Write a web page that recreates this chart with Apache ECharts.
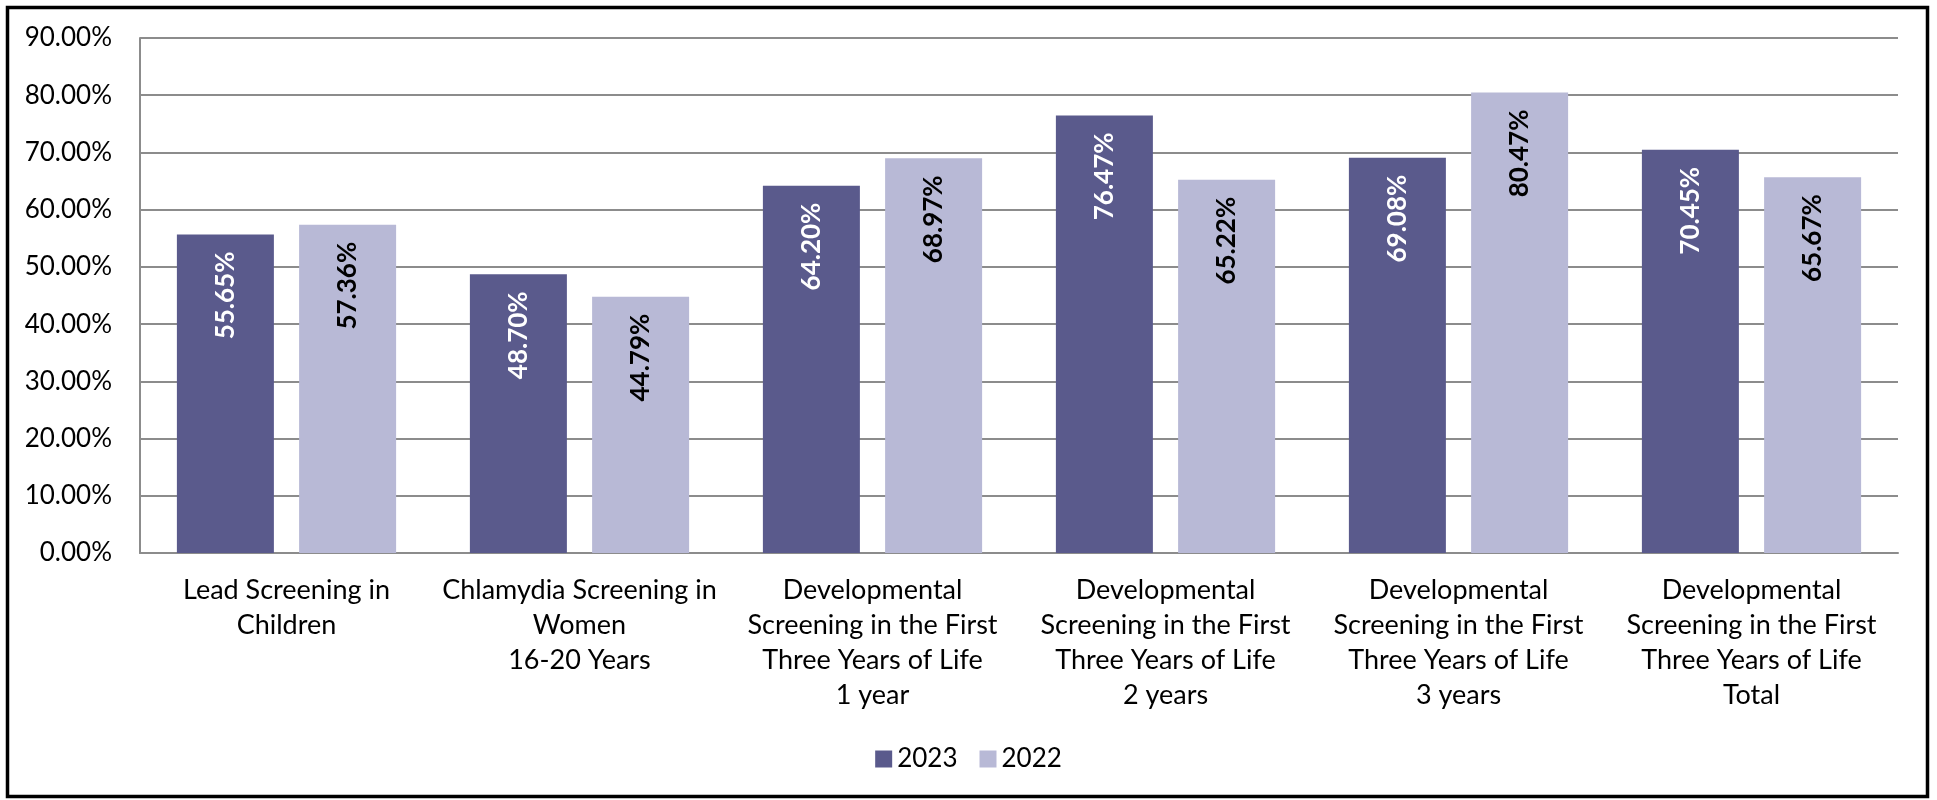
<!DOCTYPE html>
<html>
<head>
<meta charset="utf-8">
<script src="https://cdn.jsdelivr.net/npm/echarts@6/dist/echarts.min.js"></script>
<style>
  html, body { margin: 0; padding: 0; background: #fff; }
  #chart { width: 1937px; height: 800px; }
</style>
</head>
<body>
<div id="chart"></div>
<script>
// categories and values (percent)
const categories = [
  'Lead Screening in\nChildren',
  'Chlamydia Screening in\nWomen\n16-20 Years',
  'Developmental\nScreening in the First\nThree Years of Life\n1 year',
  'Developmental\nScreening in the First\nThree Years of Life\n2 years',
  'Developmental\nScreening in the First\nThree Years of Life\n3 years',
  'Developmental\nScreening in the First\nThree Years of Life\nTotal'
]
const values2023 = [55.65, 48.70, 64.20, 76.47, 69.08, 70.45]
const values2022 = [57.36, 44.79, 68.97, 65.22, 80.47, 65.67]

const font = 'Lato'
const pct = v => v.toFixed(2) + '%'

const myChart = echarts.init(document.getElementById('chart'))
const option = {
  animation: false,
  textStyle: { fontFamily: font },
  graphic: [{
    type: 'rect',
    shape: { x: 7.5, y: 7.5, width: 1920, height: 789 },
    style: { fill: 'none', stroke: '#000', lineWidth: 3.5 },
    silent: true
  }],
  grid: { left: 140, right: 39, top: 38, bottom: 247 },
  legend: {
    bottom: 23,
    left: 'center',
    itemWidth: 17,
    itemHeight: 17,
    itemGap: 22,
    icon: 'rect',
    textStyle: { fontSize: 26, color: '#000', fontFamily: font },
    data: ['2023', '2022']
  },
  xAxis: {
    type: 'category',
    data: categories,
    axisLine: { lineStyle: { color: '#8c8c8c', width: 2 } },
    axisTick: { show: false },
    axisLabel: {
      color: '#000',
      fontSize: 27,
      fontFamily: font,
      lineHeight: 35,
      margin: 20,
      interval: 0
    }
  },
  yAxis: {
    type: 'value',
    min: 0,
    max: 90,
    interval: 10,
    axisLine: { show: true, lineStyle: { color: '#8c8c8c', width: 2 } },
    axisTick: { show: false },
    splitLine: { lineStyle: { color: '#8c8c8c', width: 2 } },
    axisLabel: {
      color: '#000',
      fontSize: 26,
      fontFamily: font,
      margin: 28,
      formatter: pct
    }
  },
  series: [
    {
      name: '2023',
      type: 'bar',
      data: values2023,
      barWidth: 97,
      barGap: '26%',
      itemStyle: { color: '#5a5a8c' },
      label: {
        show: true,
        position: 'insideTop',
        rotate: 90,
        align: 'right',
        verticalAlign: 'middle',
        distance: 17,
        color: '#fff',
        fontSize: 26,
        fontWeight: 'bold',
        fontFamily: font,
        formatter: p => pct(p.value)
      }
    },
    {
      name: '2022',
      type: 'bar',
      data: values2022,
      barWidth: 97,
      itemStyle: { color: '#b8b9d6' },
      label: {
        show: true,
        position: 'insideTop',
        rotate: 90,
        align: 'right',
        verticalAlign: 'middle',
        distance: 17,
        color: '#000',
        fontSize: 26,
        fontWeight: 'bold',
        fontFamily: font,
        formatter: p => pct(p.value)
      }
    }
  ]
}
option && myChart.setOption(option)
</script>
</body>
</html>
